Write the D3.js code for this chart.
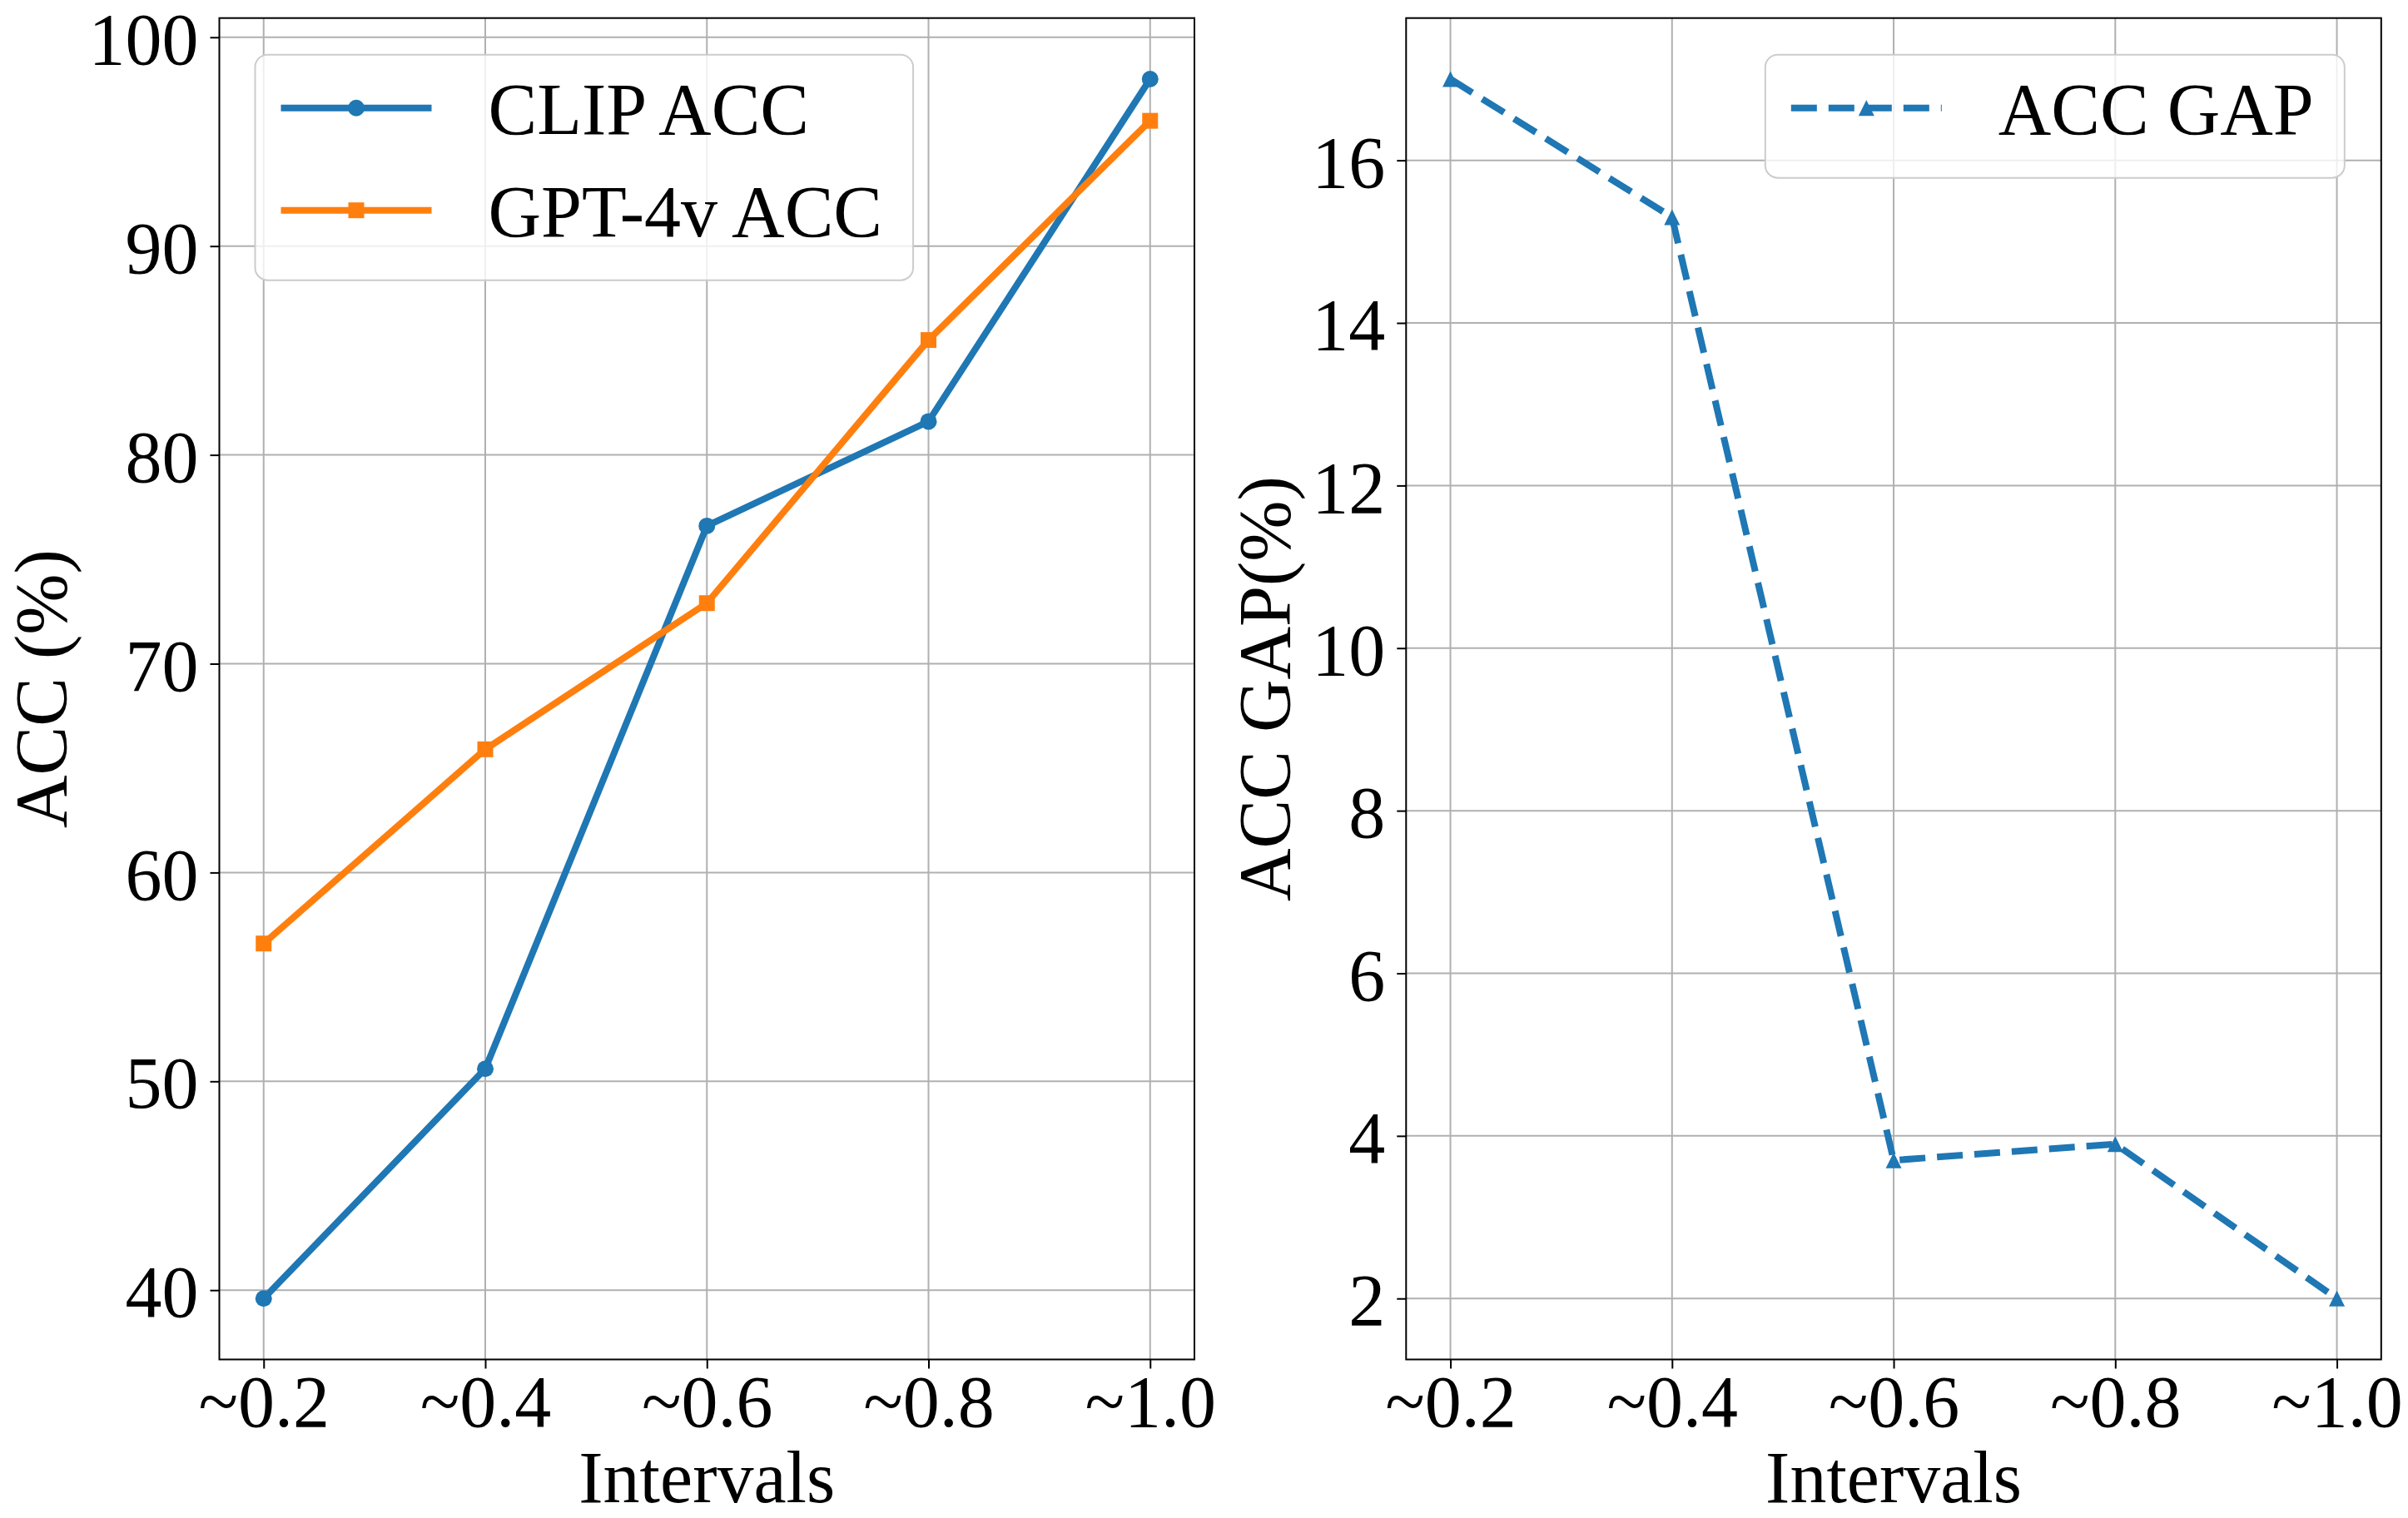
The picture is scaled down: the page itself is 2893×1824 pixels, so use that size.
<!DOCTYPE html>
<html>
<head>
<meta charset="utf-8">
<script src="https://cdn.jsdelivr.net/npm/d3@7"></script>
<style>
  html, body { margin: 0; padding: 0; background: #fff; }
  svg text { font-family: "Liberation Serif", "Times New Roman", serif; fill: #000; }
</style>
</head>
<body>
<svg id="chart" width="2893" height="1824"></svg>
<script>
// data
const intervals = ['~0.2', '~0.4', '~0.6', '~0.8', '~1.0'];
const clipAcc = [39.6, 50.6, 76.6, 81.6, 98.0];
const gptAcc = [56.6, 65.9, 72.9, 85.5, 96.0];
const accGap = [17.0, 15.3, 3.7, 3.9, 2.0];
const accTicks = [40, 50, 60, 70, 80, 90, 100];
const gapTicks = [2, 4, 6, 8, 10, 12, 14, 16];

const blue = '#1f77b4';
const orange = '#ff7f0e';
const fontSize = 88;
const lineWidth = 8;

const svg = d3.select('#chart');

// matplotlib-style triangle ('^')
const triangle = {
  draw(context, size) {
    const h = Math.sqrt(size) / 2;
    context.moveTo(0, -h);
    context.lineTo(h, h);
    context.lineTo(-h, h);
    context.closePath();
  }
};

const markerPath = {
  circle: d3.symbol().type(d3.symbolCircle).size(Math.PI * 10 * 10)(),
  square: d3.symbol().type(d3.symbolSquare).size(19 * 19)(),
  triangle: d3.symbol().type(triangle).size(19 * 19)()
};

/* ---
 * Helper: data extent with 5% margins, like matplotlib autoscale.
 */
function padded(values) {
  const [lo, hi] = d3.extent(values);
  const m = (hi - lo) * 0.05;
  return [lo - m, hi + m];
}

/* ---
 * Draws one axes panel with its lines, markers and legend.
 */
function drawPanel(box, series, yTicks, yLabel, labelX, legendAt) {
  const x = d3.scalePoint().domain(intervals).range([box.left, box.right]).padding(0.2);
  const y = d3.scaleLinear()
    .domain(padded(series.flatMap(s => s.values)))
    .range([box.bottom, box.top]);

  const g = svg.append('g');

  // grid
  g.append('g').selectAll('line').data(intervals).join('line')
    .attr('x1', d => x(d)).attr('x2', d => x(d))
    .attr('y1', box.top).attr('y2', box.bottom)
    .attr('stroke', '#b0b0b0').attr('stroke-width', 2);
  g.append('g').selectAll('line').data(yTicks).join('line')
    .attr('x1', box.left).attr('x2', box.right)
    .attr('y1', d => y(d)).attr('y2', d => y(d))
    .attr('stroke', '#b0b0b0').attr('stroke-width', 2);

  // axes
  const xAxis = g.append('g')
    .attr('transform', `translate(0,${box.bottom})`)
    .call(d3.axisBottom(x).tickSize(11).tickPadding(7));
  const yAxis = g.append('g')
    .attr('transform', `translate(${box.left},0)`)
    .call(d3.axisLeft(y).tickValues(yTicks).tickSize(11).tickPadding(14).tickFormat(d3.format('d')));

  [xAxis, yAxis].forEach(a => {
    a.attr('font-size', fontSize).attr('font-family', null);
    a.select('.domain').remove();
    a.selectAll('.tick line').attr('stroke-width', 2);
  });
  yAxis.selectAll('.tick text').attr('dy', '0.36em');

  // lines and markers
  const line = d3.line().x((d, i) => x(intervals[i])).y(d => y(d));
  series.forEach(s => {
    g.append('path')
      .attr('d', line(s.values))
      .attr('fill', 'none')
      .attr('stroke', s.color)
      .attr('stroke-width', lineWidth)
      .attr('stroke-linejoin', 'round')
      .attr('stroke-dasharray', s.dash ? '31 14' : null);
    g.append('g').selectAll('path').data(s.values).join('path')
      .attr('transform', (d, i) => `translate(${x(intervals[i])},${y(d)})`)
      .attr('d', markerPath[s.marker])
      .attr('fill', s.color);
  });

  // spines
  g.append('rect')
    .attr('x', box.left).attr('y', box.top)
    .attr('width', box.right - box.left).attr('height', box.bottom - box.top)
    .attr('fill', 'none').attr('stroke', '#000').attr('stroke-width', 2);

  // axis labels
  g.append('text')
    .attr('x', (box.left + box.right) / 2).attr('y', box.bottom + 171)
    .attr('text-anchor', 'middle').attr('font-size', fontSize)
    .text('Intervals');
  g.append('text')
    .attr('transform', `translate(${labelX},${(box.top + box.bottom) / 2}) rotate(-90)`)
    .attr('text-anchor', 'middle').attr('font-size', fontSize)
    .text(yLabel);

  drawLegend(g, box, series, legendAt);
}

/* ---
 * Helper: legend box in the upper left or upper right of the axes.
 */
function drawLegend(g, box, series, where) {
  const leg = g.append('g');
  const frame = leg.append('rect');
  const rowGap = 123;
  let maxWidth = 0;

  series.forEach((s, i) => {
    const cy = 64 + i * rowGap;
    leg.append('line')
      .attr('x1', 31).attr('x2', 212).attr('y1', cy).attr('y2', cy)
      .attr('stroke', s.color).attr('stroke-width', lineWidth)
      .attr('stroke-dasharray', s.dash ? '31 14' : null);
    leg.append('path')
      .attr('transform', `translate(121.5,${cy})`)
      .attr('d', markerPath[s.marker])
      .attr('fill', s.color);
    const t = leg.append('text')
      .attr('x', 280).attr('y', cy).attr('dy', '0.36em')
      .attr('font-size', fontSize)
      .text(s.name);
    maxWidth = Math.max(maxWidth, t.node().getComputedTextLength());
  });

  const w = 280 + maxWidth + 37;
  const h = 25 + rowGap * series.length;
  frame.attr('width', w).attr('height', h).attr('rx', 15)
    .attr('fill', '#fff').attr('fill-opacity', 0.8)
    .attr('stroke', '#cccccc').attr('stroke-width', 2);

  const left = where === 'left' ? box.left + 43 : box.right - 44 - w;
  leg.attr('transform', `translate(${left},${box.top + 44})`);
}

drawPanel(
  { left: 263.5, right: 1435, top: 21.7, bottom: 1633.5 },
  [
    { name: 'CLIP ACC', values: clipAcc, color: blue, marker: 'circle' },
    { name: 'GPT-4v ACC', values: gptAcc, color: orange, marker: 'square' }
  ],
  accTicks, 'ACC (%)', 79, 'left'
);

drawPanel(
  { left: 1689.3, right: 2860.8, top: 21.7, bottom: 1633.5 },
  [
    { name: 'ACC GAP', values: accGap, color: blue, marker: 'triangle', dash: true }
  ],
  gapTicks, 'ACC GAP(%)', 1549, 'right'
);
</script>
</body>
</html>
